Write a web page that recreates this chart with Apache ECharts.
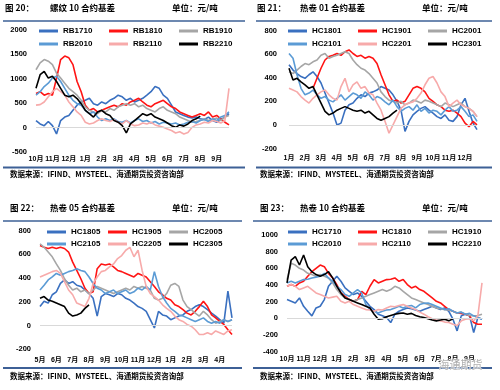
<!DOCTYPE html>
<html><head><meta charset="utf-8">
<script src="https://cdn.jsdelivr.net/npm/echarts@6/dist/echarts.min.js"></script>
<style>html,body{margin:0;padding:0;background:#fff}#c{width:500px;height:390px}</style>
</head><body><div id="c"></div><script>
// ---- tick labels ----
const monthsA = ['10月','11月','12月','1月','2月','3月','4月','5月','6月','7月','8月','9月'];
const monthsB = ['1月','2月','3月','4月','5月','6月','7月','8月','9月','10月','11月','12月'];
const monthsC = ['5月','6月','7月','8月','9月','10月','11月','12月','1月','2月','3月','4月'];

// ---- panel 20: RB 10 contracts ----
const rbNames = ['RB1710','RB1810','RB1910','RB2010','RB2110','RB2210'];
const rb1710 = [145,75,40,125,40,-130,145,215,250,355,460,525,560,600,490,460,525,490,560,600,665,630,560,600,525,560,600,665,735,840,805,665,600,460,320,285,250,215,195,215,180,165,215,145,110,165,215,285];
const rb1810 = [700,735,665,700,665,1010,1395,1465,1430,1290,945,735,460,355,390,320,355,390,425,460,425,490,460,525,560,600,525,460,425,490,525,560,490,425,390,320,285,250,215,250,285,250,320,215,250,180,110,55];
const rb1910 = [1185,1325,1395,1360,1290,1115,1015,910,805,735,665,560,425,355,320,285,355,320,390,355,425,460,490,460,490,425,460,390,355,320,390,425,355,320,285,215,180,145,110,125,145,180,145,165,195,145,215,250];
const rb2010 = [665,735,840,910,1015,1050,945,805,665,560,490,460,355,285,320,215,145,180,145,180,125,110,145,95,145,180,125,145,95,125,75,110,95,75,95,55,75,110,125,95,145,165,125,180,145,215,250,320];
const rb2110 = [460,470,525,630,735,805,735,665,525,425,320,250,110,75,95,145,180,145,125,165,110,75,145,75,40,55,95,75,110,55,30,5,-30,-60,-110,-85,-130,-100,5,55,75,110,95,145,125,95,145,805];
const rb2210 = [805,1085,1150,1015,1050,945,805,665,630,665,595,490,355,285,215,320,355,285,250,145,110,40,-110,75,145,215,285,250,285,215,180,145,95,40,5,55,30,75,145,180,235];

// ---- panel 21: HC 01 contracts ----
const hc01Names = ['HC1801','HC1901','HC2001','HC2101','HC2201','HC2301'];
const hc1801 = [510,465,435,410,395,425,450,410,355,270,185,100,0,15,125,170,185,225,255,240,270,280,295,325,310,295,255,200,125,-55,30,85,115,140,155,125,100,70,55,85,40,30,70,170,225,115,15,-40];
const hc1901 = [null,null,null,null,null,null,310,395,480,550,580,590,605,590,620,635,605,580,590,565,580,565,520,425,340,255,200,210,185,200,255,310,325,310,280,225,200,170,155,125,115,125,100,70,15,-15,30,0];
const hc2001 = [450,435,465,495,520,510,535,550,590,605,565,580,590,605,620,605,550,510,480,465,435,395,355,280,240,210,200,185,200,170,185,210,200,185,210,200,185,170,155,185,170,155,170,185,155,140,115,70];
const hc2101 = [605,565,425,310,255,270,295,255,225,240,210,195,225,255,210,240,270,255,225,280,255,210,240,225,195,170,210,155,115,140,155,125,170,115,140,100,125,115,85,125,155,115,125,155,115,70,85,30];
const hc2201 = [310,295,280,240,210,185,225,255,280,295,255,225,210,325,395,280,340,365,310,325,270,255,185,125,30,-70,0,70,140,170,185,195,225,270,340,395,410,355,280,240,155,185,210,170,155,140,115,70];
const hc2301 = [480,380,395,365,340,310,325,255,185,115,85,100,125,140,155,140,125,115,125,100,115,85,55,40,55,70,100,125];

// ---- panel 22: HC 05 contracts ----
const hc05Names = ['HC1805','HC1905','HC2005','HC2105','HC2205','HC2305'];
const hc1805 = [160,205,190,260,285,355,385,355,370,340,330,300,270,230,80,245,270,260,245,270,260,230,215,190,160,145,120,50,-20,120,90,80,50,65,80,90,120,135,160,175,160,135,105,80,50,20,290,65];
const hc1905 = [675,660,650,660,650,660,650,620,535,465,395,315,270,285,480,520,510,520,495,465,455,440,425,410,440,425,410,370,330,285,260,230,215,175,160,135,105,90,120,160,205,160,90,65,35,10,-35,-75];
const hc2005 = [690,660,620,580,520,465,395,340,300,315,285,300,270,300,330,315,300,285,270,285,300,315,300,330,315,330,315,300,230,215,230,270,340,355,330,215,160,135,105,80,120,90,50,20,35,50,35,50];
const hc2105 = [300,340,385,410,440,425,440,455,465,480,465,455,410,355,315,300,270,285,300,270,285,300,270,285,315,300,330,300,455,330,245,190,145,120,90,80,65,50,35,50,65,35,20,35,20,50,35,50];
const hc2205 = [410,425,440,455,465,440,370,300,260,190,175,160,230,355,410,455,465,495,520,565,590,635,660,580,635,465,330,270,245,215,175,145,120,80,50,35,10,-5,-35,-75,-75,-60,-75,-45,-60,-75,-45,-35];
const hc2305 = [230,245,215,205,190,175,160,105,80,90,105,145,175];

// ---- panel 23: HC 10 contracts ----
const hc10Names = ['HC1710','HC1810','HC1910','HC2010','HC2110','HC2210'];
const hc1710 = [225,205,185,245,145,85,30,125,145,225,385,445,505,445,365,325,285,305,265,205,145,105,50,30,10,-50,50,85,105,125,115,100,85,105,125,145,125,105,125,85,-10,-150,30,50,30,-170,10,-10];
const hc1810 = [385,405,385,425,445,505,560,600,640,620,540,485,405,305,265,225,205,225,325,285,385,465,425,445,465,470,485,445,465,405,365,385,345,325,285,245,205,185,145,105,85,65,60,50,30,-50,-70,-70];
const hc1910 = [465,660,640,600,580,540,525,505,525,505,485,425,345,285,245,225,205,225,245,265,285,305,325,345,325,345,385,365,325,285,245,225,205,185,165,145,125,115,105,100,85,65,75,50,35,30,35,50];
const hc2010 = [425,445,425,445,465,470,485,495,505,540,485,445,385,345,285,265,305,345,305,165,105,85,65,85,100,105,125,145,125,145,155,125,165,180,185,165,145,125,105,115,85,65,75,50,60,30,10,-10];
const hc2110 = [385,405,385,345,365,385,345,305,285,265,245,255,265,205,185,205,165,145,125,105,100,85,105,100,125,145,140,155,165,145,125,105,75,50,20,-5,-20,-30,-45,-50,-70,-85,-30,-10,-5,-30,30,425];
const hc2210 = [425,700,740,640,760,620,560,525,505,525,560,485,385,305,245,225,205,185,165,145,125,50,-10,-5,20,35,50,60,65,50,60,35,20,10,-5,-20,-30,-20,-10,-30,-5];

// ---- titles ----
const titles = [
  ['图 20：','螺纹 10 合约基差'],
  ['图 21：','热卷 01 合约基差'],
  ['图 22：','热卷 05 合约基差'],
  ['图 23：','热卷 10 合约基差']
];
const unitText = '单位：元/吨';
const sourceText = '数据来源：IFIND、MYSTEEL、海通期货投资咨询部';

// ---- build ----
const NUM = '"Liberation Sans", Arial, sans-serif';
const CJK = '"Liberation Sans", "Noto Sans CJK SC", sans-serif';
const CJKT = '"Noto Sans CJK SC", "Liberation Sans", sans-serif';
const COLORS = ['#3a70c0','#ff1414','#a6a6a6','#5b9bd5','#f7aaaa','#000000'];
const RULE = '#3d6096';

function cats(months){const a=[];months.forEach(m=>{for(let k=1;k<=4;k++)a.push(m+'#'+k);});return a;}

const panels = [
  {grid:{left:36,top:30,width:193,height:122}, y:[-500,2000,500], ym:9, xm:3.5, months:monthsA,
   names:rbNames, data:[rb1710,rb1810,rb1910,rb2010,rb2110,rb2210], lg:{left:39,tops:[26,39],tw:40,gap:6},
   ox:0, tx:5, rx:3, rw:242},
  {grid:{left:289,top:30.5,width:188,height:118}, y:[-200,800,200], ym:12, xm:6, months:monthsB,
   names:hc01Names, data:[hc1801,hc1901,hc2001,hc2101,hc2201,hc2301], lg:{left:288,tops:[26,39],tw:40,gap:6},
   ox:250, tx:257, rx:256, rw:236},
  {grid:{left:40,top:230.7,width:192,height:118.6}, y:[-200,800,200], ym:9, xm:7, months:monthsC,
   names:hc05Names, data:[hc1805,hc1905,hc2005,hc2105,hc2205,hc2305], lg:{left:47,tops:[227,239],tw:35,gap:2},
   ox:0, tx:10, rx:3, rw:239},
  {grid:{left:287,top:235,width:195,height:116.7}, y:[-400,1000,200], ym:9, xm:3.5, months:monthsA,
   names:hc10Names, data:[hc1710,hc1810,hc1910,hc2010,hc2110,hc2210], lg:{left:288,tops:[227,239],tw:40,gap:6},
   ox:250, tx:260, rx:253, rw:239}
];

const option = {animation:false, backgroundColor:'#fff', grid:[], xAxis:[], yAxis:[], series:[], legend:[], graphic:[]};
const titleY = [10,10,210,210], ruleTop=[21,21,221,221], ruleBot=[167.5,167.5,368,368], srcY=[175,175,377,377];

panels.forEach((p,pi)=>{
  option.grid.push(p.grid);
  option.xAxis.push({gridIndex:pi,type:'category',boundaryGap:false,data:cats(p.months),
    axisLine:{show:false},axisTick:{show:false},splitLine:{show:false},
    axisLabel:{interval:3,hideOverlap:false,formatter:v=>v.split('#')[0],fontSize:7,fontWeight:'bold',color:'#000',fontFamily:CJK,margin:p.xm}});
  option.yAxis.push({gridIndex:pi,type:'value',min:p.y[0],max:p.y[1],interval:p.y[2],
    axisLine:{show:false},axisTick:{show:false},splitLine:{show:false},
    axisLabel:{formatter:v=>String(v),fontSize:7.5,fontWeight:'bold',color:'#000',fontFamily:NUM,margin:p.ym}});
  p.names.forEach((n,si)=>{
    const s={name:n,type:'line',xAxisIndex:pi,yAxisIndex:pi,data:p.data[si],symbol:'none',connectNulls:false,
      color:COLORS[si],itemStyle:{color:COLORS[si]},lineStyle:{color:COLORS[si],width:1.6},emphasis:{disabled:true}};
    if(si===0){s.markLine={silent:true,symbol:'none',label:{show:false},animation:false,
      lineStyle:{color:'#d9d9d9',width:1,type:'solid'},data:[{yAxis:0}]};}
    option.series.push(s);
  });
  [0,1].forEach(r=>{
    option.legend.push({data:p.names.slice(r*3,r*3+3),left:p.lg.left,top:p.lg.tops[r],orient:'horizontal',
      icon:'rect',itemWidth:19,itemHeight:3,itemGap:p.lg.gap,itemTextGap:2,padding:0,selectedMode:false,
      textStyle:{fontSize:8,fontWeight:'bold',color:'#000',fontFamily:NUM,width:p.lg.tw,lineHeight:10}});
  });
  const g=option.graphic;
  g.push({type:'text',left:p.tx,top:titleY[pi]-6,style:{text:titles[pi][0],font:'bold 8.5px '+CJKT,fill:'#000'}});
  g.push({type:'text',left:p.ox+50,top:titleY[pi]-6,style:{text:titles[pi][1],font:'bold 8.5px '+CJKT,fill:'#000'}});
  g.push({type:'text',left:p.ox+172,top:titleY[pi]-6,style:{text:unitText,font:'bold 8.5px '+CJKT,fill:'#000'}});
  g.push({type:'rect',shape:{x:p.rx,y:ruleTop[pi]-0.75,width:p.rw,height:1.5},style:{fill:RULE}});
  g.push({type:'rect',shape:{x:p.rx,y:ruleBot[pi]-1,width:p.rw,height:2},style:{fill:RULE}});
  g.push({type:'text',left:p.ox+10,top:srcY[pi]-5,style:{text:sourceText,font:'bold 7.5px '+CJKT,fill:'#000'}});
});
option.graphic.push({type:'text',left:438,top:359,z:100,style:{text:'海通期货',font:'11px '+CJKT,fill:'rgba(150,150,150,0.75)',stroke:'rgba(255,255,255,0.8)',lineWidth:1}});

const chart = echarts.init(document.getElementById('c'),null,{renderer:'canvas'});
chart.setOption(option);
</script></body></html>
